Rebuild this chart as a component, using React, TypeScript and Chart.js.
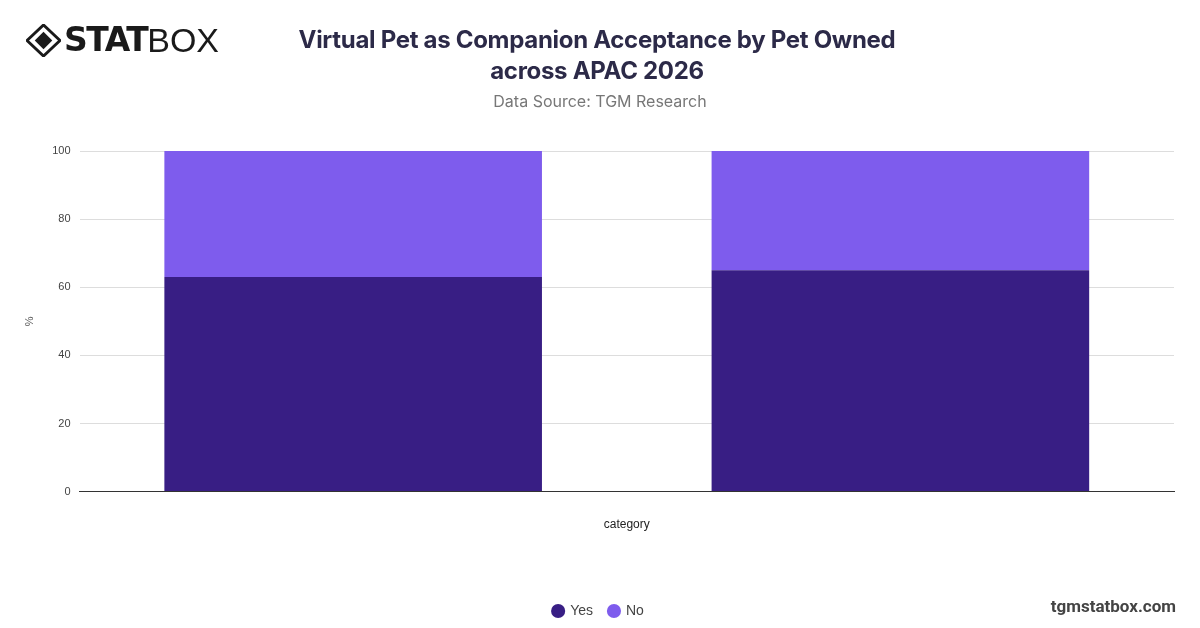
import React, { useEffect, useRef } from "react";
import { Chart, registerables } from "chart.js";

Chart.register(...registerables);

const categories: string[] = ["", ""];
const yesValues: number[] = [63, 65];
const noValues: number[] = [37, 35];
const seriesNames: string[] = ["Yes", "No"];
const yTicks: number[] = [0, 20, 40, 60, 80, 100];

const TITLE_LINE1 = "Virtual Pet as Companion Acceptance by Pet Owned";
const TITLE_LINE2 = "across APAC 2026";
const SUBTITLE = "Data Source: TGM Research";

export default function App() {
  const canvasRef = useRef<HTMLCanvasElement | null>(null);

  useEffect(() => {
    document.body.style.margin = "0";
    const ctx = canvasRef.current;
    if (!ctx) return;
    const chart = new Chart(ctx, {
      type: "bar",
      data: {
        labels: categories,
        datasets: [
          {
            label: seriesNames[0],
            data: yesValues,
            backgroundColor: "#381E84",
            borderWidth: 0,
          },
          {
            label: seriesNames[1],
            data: noValues,
            backgroundColor: "#7E5CED",
            borderWidth: 0,
          },
        ],
      },
      options: {
        animation: false,
        responsive: false,
        devicePixelRatio: 1,
        layout: { padding: { top: 151, right: 26, left: 23, bottom: 0 } },
        datasets: {
          bar: { categoryPercentage: 1, barPercentage: 0.69 },
        },
        plugins: {
          title: { display: false },
          tooltip: { enabled: false },
          legend: {
            position: "bottom",
            labels: {
              usePointStyle: true,
              pointStyle: "circle",
              boxWidth: 10,
              boxHeight: 10,
              padding: 16,
              color: "#444",
              font: { family: "Liberation Sans, Arial, sans-serif", size: 14 },
            },
          },
        },
        scales: {
          x: {
            stacked: true,
            grid: { display: false, drawTicks: false },
            border: { display: true, color: "#333", width: 1 },
            ticks: { display: false },
            title: {
              display: true,
              text: "category",
              color: "#222",
              font: { family: "Liberation Sans, Arial, sans-serif", size: 12 },
              padding: { top: 26, bottom: 56 },
            },
          },
          y: {
            stacked: true,
            min: 0,
            max: 100,
            afterBuildTicks: (axis: any) => {
              axis.ticks = yTicks.map((v) => ({ value: v }));
            },
            grid: { color: "#dddddd", drawTicks: false, lineWidth: 1 },
            border: { display: false },
            ticks: {
              padding: 9,
              color: "#444",
              font: { family: "Liberation Sans, Arial, sans-serif", size: 11 },
            },
            title: {
              display: true,
              text: "%",
              color: "#555",
              font: { family: "Liberation Sans, Arial, sans-serif", size: 11 },
              padding: { top: 0, bottom: 7 },
            },
          },
        },
      },
    });
    return () => chart.destroy();
  }, []);

  return (
    <div
      style={{
        position: "relative",
        width: 1200,
        height: 628,
        background: "#fff",
        overflow: "hidden",
        fontFamily: "Liberation Sans, Arial, sans-serif",
      }}
    >
      <canvas
        ref={canvasRef}
        width={1200}
        height={628}
        style={{ position: "absolute", left: 0, top: 0, width: 1200, height: 628 }}
      />
      {/* Logo */}
      <div
        style={{
          position: "absolute",
          left: 26,
          top: 22,
          display: "flex",
          alignItems: "center",
          height: 36,
        }}
      >
        <svg width="35" height="33" viewBox="0 0 36 34">
          <polygon points="18,1 35,17 18,33 1,17" fill="none" stroke="#1a1a1a" strokeWidth="3" />
          <polygon points="18,8 27,17 18,26 9,17" fill="#1a1a1a" />
        </svg>
        <span
          style={{
            marginLeft: 3,
            fontFamily: "DejaVu Sans, sans-serif",
            fontWeight: 900,
            fontSize: 33,
            letterSpacing: -1.5,
            color: "#1a1a1a",
            lineHeight: "36px",
          }}
        >
          STAT
        </span>
        <span
          style={{
            fontFamily: "Liberation Sans, Arial, sans-serif",
            fontWeight: 300,
            fontSize: 34,
            color: "#1a1a1a",
            lineHeight: "36px",
          }}
        >
          BOX
        </span>
      </div>
      {/* Title */}
      <div
        style={{
          position: "absolute",
          left: 197,
          width: 800,
          top: 24,
          textAlign: "center",
          whiteSpace: "nowrap",
          fontFamily: "Inter, Roboto, sans-serif",
          fontWeight: 700,
          fontSize: 24,
          letterSpacing: -0.3,
          lineHeight: "31px",
          color: "#2C2A48",
        }}
      >
        <div>{TITLE_LINE1}</div>
        <div>{TITLE_LINE2}</div>
      </div>
      <div
        style={{
          position: "absolute",
          left: 300,
          width: 600,
          top: 91,
          textAlign: "center",
          fontFamily: "Inter, Roboto, sans-serif",
          fontSize: 16,
          color: "#777",
        }}
      >
        {SUBTITLE}
      </div>
      <div
        style={{
          position: "absolute",
          right: 24,
          top: 596,
          fontFamily: "Roboto, Liberation Sans, sans-serif",
          fontWeight: 700,
          fontSize: 17,
          color: "#444",
        }}
      >
        tgmstatbox.com
      </div>
    </div>
  );
}
